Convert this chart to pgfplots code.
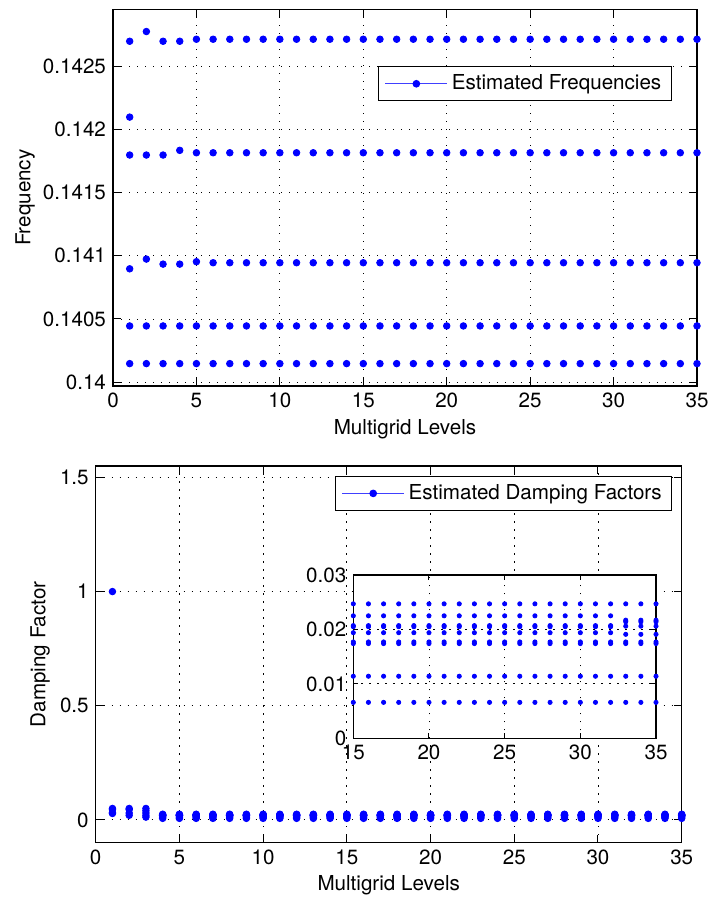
\documentclass[border=0pt]{standalone}
\usepackage{pgfplots}
\pgfplotsset{compat=1.18}
\usepackage{pgfplotstable}
\usepackage{fontspec}
\setmainfont{TeX Gyre Heros}

\pgfplotstableread{
x f1 f2 f3 f4 f5 f6
1 0.142697 0.142097 0.141797 0.140897 0.140445 0.140147
2 0.142774 nan 0.141797 0.140974 0.140445 0.140147
3 0.142697 nan 0.141797 0.140934 0.140445 0.140147
4 0.142697 nan 0.141834 0.140934 0.140445 0.140147
5 0.142713 nan 0.141815 0.140953 0.140445 0.140147
6 0.142713 nan 0.141815 0.140945 0.140445 0.140147
7 0.142713 nan 0.141815 0.140945 0.140445 0.140147
8 0.142713 nan 0.141815 0.140945 0.140445 0.140147
9 0.142713 nan 0.141815 0.140945 0.140445 0.140147
10 0.142713 nan 0.141815 0.140945 0.140445 0.140147
11 0.142713 nan 0.141815 0.140945 0.140445 0.140147
12 0.142713 nan 0.141815 0.140945 0.140445 0.140147
13 0.142713 nan 0.141815 0.140945 0.140445 0.140147
14 0.142713 nan 0.141815 0.140945 0.140445 0.140147
15 0.142713 nan 0.141815 0.140945 0.140445 0.140147
16 0.142713 nan 0.141815 0.140945 0.140445 0.140147
17 0.142713 nan 0.141815 0.140945 0.140445 0.140147
18 0.142713 nan 0.141815 0.140945 0.140445 0.140147
19 0.142713 nan 0.141815 0.140945 0.140445 0.140147
20 0.142713 nan 0.141815 0.140945 0.140445 0.140147
21 0.142713 nan 0.141815 0.140945 0.140445 0.140147
22 0.142713 nan 0.141815 0.140945 0.140445 0.140147
23 0.142713 nan 0.141815 0.140945 0.140445 0.140147
24 0.142713 nan 0.141815 0.140945 0.140445 0.140147
25 0.142713 nan 0.141815 0.140945 0.140445 0.140147
26 0.142713 nan 0.141815 0.140945 0.140445 0.140147
27 0.142713 nan 0.141815 0.140945 0.140445 0.140147
28 0.142713 nan 0.141815 0.140945 0.140445 0.140147
29 0.142713 nan 0.141815 0.140945 0.140445 0.140147
30 0.142713 nan 0.141815 0.140945 0.140445 0.140147
31 0.142713 nan 0.141815 0.140945 0.140445 0.140147
32 0.142713 nan 0.141815 0.140945 0.140445 0.140147
33 0.142713 nan 0.141815 0.140945 0.140445 0.140147
34 0.142713 nan 0.141815 0.140945 0.140445 0.140147
35 0.142713 nan 0.141815 0.140945 0.140445 0.140147
}\freqtable

\pgfplotstableread{
x d1 d2 d3 d4 d5 d6 d7 d8 d9
1 1.0 0.050 0.045 0.032 0.028 nan nan nan nan
2 0.050 0.045 0.030 0.020 nan nan nan nan nan
3 0.050 0.040 0.030 0.020 0.012 nan nan nan nan
4 0.0247 0.0225 0.0207 0.0205 0.0194 0.0177 0.0174 0.0114 0.0066
5 0.0247 0.0225 0.0207 0.0205 0.0194 0.0177 0.0174 0.0114 0.0066
6 0.0247 0.0225 0.0207 0.0205 0.0194 0.0177 0.0174 0.0114 0.0066
7 0.0247 0.0225 0.0207 0.0205 0.0194 0.0177 0.0174 0.0114 0.0066
8 0.0247 0.0225 0.0207 0.0205 0.0194 0.0177 0.0174 0.0114 0.0066
9 0.0247 0.0225 0.0207 0.0205 0.0194 0.0177 0.0174 0.0114 0.0066
10 0.0247 0.0225 0.0207 0.0205 0.0194 0.0177 0.0174 0.0114 0.0066
11 0.0247 0.0225 0.0207 0.0205 0.0194 0.0177 0.0174 0.0114 0.0066
12 0.0247 0.0225 0.0207 0.0205 0.0194 0.0177 0.0174 0.0114 0.0066
13 0.0247 0.0225 0.0207 0.0205 0.0194 0.0177 0.0174 0.0114 0.0066
14 0.0247 0.0225 0.0207 0.0205 0.0194 0.0177 0.0174 0.0114 0.0066
15 0.0247 0.0225 0.0207 0.0205 0.0194 0.0177 0.0174 0.0114 0.0066
16 0.0247 0.0225 0.0207 0.0205 0.0194 0.0177 0.0174 0.0114 0.0066
17 0.0247 0.0225 0.0207 0.0205 0.0194 0.0177 0.0174 0.0114 0.0066
18 0.0247 0.0225 0.0207 0.0205 0.0194 0.0177 0.0174 0.0114 0.0066
19 0.0247 0.0225 0.0207 0.0205 0.0194 0.0177 0.0174 0.0114 0.0066
20 0.0247 0.0225 0.0207 0.0205 0.0194 0.0177 0.0174 0.0114 0.0066
21 0.0247 0.0225 0.0207 0.0205 0.0194 0.0177 0.0174 0.0114 0.0066
22 0.0247 0.0225 0.0207 0.0205 0.0194 0.0177 0.0174 0.0114 0.0066
23 0.0247 0.0225 0.0207 0.0205 0.0194 0.0177 0.0174 0.0114 0.0066
24 0.0247 0.0225 0.0207 0.0205 0.0194 0.0177 0.0174 0.0114 0.0066
25 0.0247 0.0225 0.0207 0.0205 0.0194 0.0177 0.0174 0.0114 0.0066
26 0.0247 0.0225 0.0207 0.0205 0.0194 0.0177 0.0174 0.0114 0.0066
27 0.0247 0.0225 0.0207 0.0205 0.0194 0.0177 0.0174 0.0114 0.0066
28 0.0247 0.0225 0.0207 0.0205 0.0194 0.0177 0.0174 0.0114 0.0066
29 0.0247 0.0225 0.0207 0.0205 0.0194 0.0177 0.0174 0.0114 0.0066
30 0.0247 0.0225 0.0207 0.0205 0.0194 0.0177 0.0174 0.0114 0.0066
31 0.0247 0.0225 0.0207 0.0205 0.0194 0.0177 0.0174 0.0114 0.0066
32 0.0247 0.0225 0.0207 0.0205 0.0194 0.0177 0.0174 0.0114 0.0066
33 0.0247 0.0217 0.0214 0.0206 0.0191 0.0177 0.0174 0.0114 0.0066
34 0.0247 0.0217 0.0214 0.0206 0.0191 0.0177 0.0174 0.0114 0.0066
35 0.0247 0.0217 0.0214 0.0206 0.0191 0.0177 0.0174 0.0114 0.0066
}\damptable

\pgfplotsset{
  matlab/.style={
    scale only axis,
    axis line style={line width=0.6pt},
    every tick/.style={black, line width=0.5pt},
    major tick length=4pt,
    tick align=inside,
    xtick pos=both, ytick pos=both,
    grid=major,
    major grid style={black, line width=0.45pt, dash pattern=on 0.6pt off 3.4pt},
    scaled ticks=false,
    /pgf/number format/assume math mode=true,
    tick label style={font=\fontsize{10.3}{12}\selectfont},
    label style={font=\fontsize{10.3}{12}\selectfont},
    legend style={font=\fontsize{10.3}{12}\selectfont, draw=black, line width=0.6pt,
      fill=white, inner xsep=3pt, inner ysep=2pt, cells={anchor=west}},
  },
  dots/.style={only marks, mark=*, blue, mark size=1.65pt, forget plot},
  mlegend/.style={blue, line width=0.5pt, mark=*, mark size=1.65pt,
    legend image code/.code={\draw[blue!75!white, line width=0.5pt] (0pt,0pt) -- (31pt,0pt);
      \draw[mark repeat=2, mark phase=2, ##1, draw=none] plot coordinates {(0pt,0pt) (15.5pt,0pt) (31pt,0pt)};}},
}

\begin{document}
\begin{tikzpicture}[font=\fontsize{10.3}{12}\selectfont]
\useasboundingbox (0,0) rectangle (353.5pt,448.5pt);

% ---------- top: frequencies ----------
\begin{axis}[matlab,
  at={(56.5pt,255.5pt)}, anchor=south west,
  width=292pt, height=188.35pt,
  xmin=0, xmax=35, ymin=0.13997, ymax=0.14295,
  xtick={0,5,10,15,20,25,30,35},
  xticklabels={0,5,10,15,20,25,30,35},
  ytick={0.14,0.1405,0.141,0.1415,0.142,0.1425},
  yticklabels={0.14,0.1405,0.141,0.1415,0.142,0.1425},
  xlabel={Multigrid Levels}, ylabel={Frequency},
  y label style={at={(axis description cs:-0.1507,0.5)}, anchor=center},
  x label style={at={(axis description cs:0.5,-0.114)}, anchor=center},
  legend style={at={(0.957,0.849)}, anchor=north east},
]
\pgfplotsinvokeforeach{f1,f2,f3,f4,f5,f6}{
  \addplot[dots] table[x=x, y=#1] {\freqtable};
}
\addlegendimage{mlegend}
\addlegendentry{Estimated Frequencies}
\end{axis}

% ---------- bottom: damping factors ----------
\begin{axis}[matlab,
  at={(47.85pt,27.15pt)}, anchor=south west,
  width=293pt, height=188.35pt,
  xmin=0, xmax=35, ymin=-0.1, ymax=1.55,
  xtick={0,5,10,15,20,25,30,35},
  xticklabels={0,5,10,15,20,25,30,35},
  ytick={0,0.5,1,1.5},
  yticklabels={0,0.5,1,1.5},
  xlabel={Multigrid Levels}, ylabel={Damping Factor},
  y label style={at={(axis description cs:-0.095,0.5)}, anchor=center},
  x label style={at={(axis description cs:0.5,-0.114)}, anchor=center},
  legend style={at={(0.984,0.974)}, anchor=north east},
]
\pgfplotsinvokeforeach{d1,d2,d3,d4,d5,d6,d7,d8,d9}{
  \addplot[dots] table[x=x, y=#1] {\damptable};
}
\addlegendimage{mlegend}
\addlegendentry{Estimated Damping Factors}
\end{axis}

% ---------- inset ----------
\begin{axis}[matlab,
  at={(176.65pt,79.35pt)}, anchor=south west,
  width=151.35pt, height=81.65pt,
  major tick length=2.5pt,
  axis background/.style={fill=white},
  xmin=15, xmax=35, ymin=0, ymax=0.03,
  xtick={15,20,25,30,35},
  xticklabels={15,20,25,30,35},
  ytick={0,0.01,0.02,0.03},
  yticklabels={0,0.01,0.02,0.03},
]
\pgfplotsinvokeforeach{d1,d2,d3,d4,d5,d6,d7,d8,d9}{
  \addplot[dots, mark size=1.05pt] table[x=x, y=#1] {\damptable};
}
\end{axis}
\end{tikzpicture}
\end{document}
